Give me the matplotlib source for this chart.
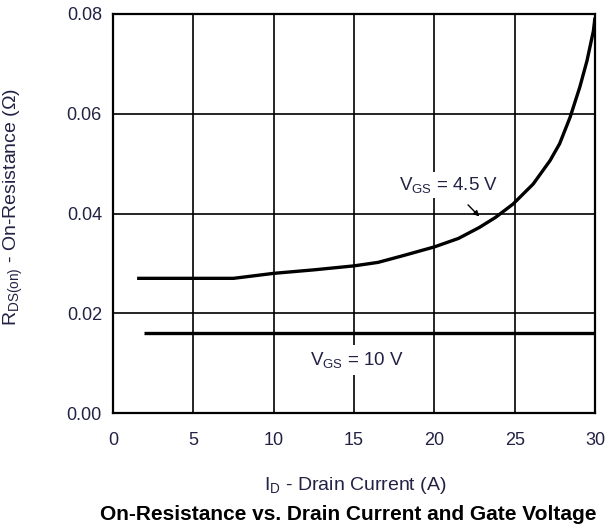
import matplotlib
matplotlib.use("Agg")
import matplotlib.pyplot as plt

plt.rcParams["font.family"] = ["Liberation Sans", "DejaVu Sans"]
plt.rcParams["mathtext.fontset"] = "custom"
plt.rcParams["mathtext.rm"] = "Liberation Sans"
plt.rcParams["mathtext.it"] = "Liberation Sans"

# Drain current (A) and on-resistance (ohm) for each gate voltage
id_vgs45 = [1.5, 3, 5, 7.5, 10, 12.5, 15, 16.5, 18, 20, 21.5, 22.8, 23.8, 24.9, 26.15,
            27.2, 27.8, 28.45, 29.05, 29.5, 29.9, 30]
rds_vgs45 = [0.027, 0.027, 0.027, 0.027, 0.028, 0.0287, 0.0295, 0.0302, 0.0315, 0.0333,
             0.035, 0.0372, 0.0392, 0.0419, 0.0459, 0.0506, 0.054, 0.0593, 0.0653,
             0.0706, 0.0766, 0.0793]
id_vgs10 = [1.9, 30]
rds_vgs10 = [0.016, 0.016]

x_ticks = [0, 5, 10, 15, 20, 25, 30]
y_ticks = [0.00, 0.02, 0.04, 0.06, 0.08]
y_tick_labels = ["0.00", "0.02", "0.04", "0.06", "0.08"]

text_color = "#222244"

fig = plt.figure(figsize=(6.09, 5.29), dpi=100)
ax = fig.add_axes([113 / 609, 1 - 413 / 529, (595 - 113) / 609, (413 - 14) / 529])

ax.set_xlim(0, 30)
ax.set_ylim(0, 0.08)
ax.set_xticks(x_ticks)
ax.set_yticks(y_ticks)
ax.set_yticklabels(y_tick_labels)
ax.tick_params(length=0, labelsize=13, colors=text_color)
ax.tick_params(axis="x", pad=14)
ax.tick_params(axis="y", pad=8)
ax.grid(True, color="black", linewidth=1.2)
ax.set_axisbelow(True)
for s in ax.spines.values():
    s.set_linewidth(1.6)
    s.set_color("black")

ax.plot(id_vgs45, rds_vgs45, color="black", linewidth=2.4, solid_capstyle="butt", zorder=3)
ax.plot(id_vgs10, rds_vgs10, color="black", linewidth=2.4, solid_capstyle="butt", zorder=3)

ax.annotate(r"V$_{\mathrm{GS}}$ = 4.5 V", xy=(22.8, 0.0394), xytext=(20.9, 0.0457),
            ha="center", va="center", fontsize=13.5, color=text_color,
            bbox=dict(boxstyle="square,pad=0.15", fc="white", ec="none"),
            arrowprops=dict(arrowstyle="-|>", color="black", lw=1.0,
                            shrinkA=7, shrinkB=0, mutation_scale=8), zorder=4)
ax.text(15.2, 0.0106, r"V$_{\mathrm{GS}}$ = 10 V", ha="center", va="center",
        fontsize=13.5, color=text_color,
        bbox=dict(boxstyle="square,pad=0.25", fc="white", ec="none"), zorder=4)

fig.text(13 / 609, 1 - 207 / 529, r"R$_{\mathrm{DS(on)}}$ - On-Resistance ($\Omega$)",
         ha="center", va="center", rotation=90, fontsize=14, color=text_color)
fig.text(355 / 609, 1 - 485 / 529, r"I$_{\mathrm{D}}$ - Drain Current (A)",
         ha="center", va="center", fontsize=14, color=text_color)
fig.text(100 / 609, 1 - 515 / 529, "On-Resistance vs. Drain Current and Gate Voltage",
         ha="left", va="center", fontsize=15, fontweight="bold", color="black")

fig.savefig("out.png", dpi=100)
